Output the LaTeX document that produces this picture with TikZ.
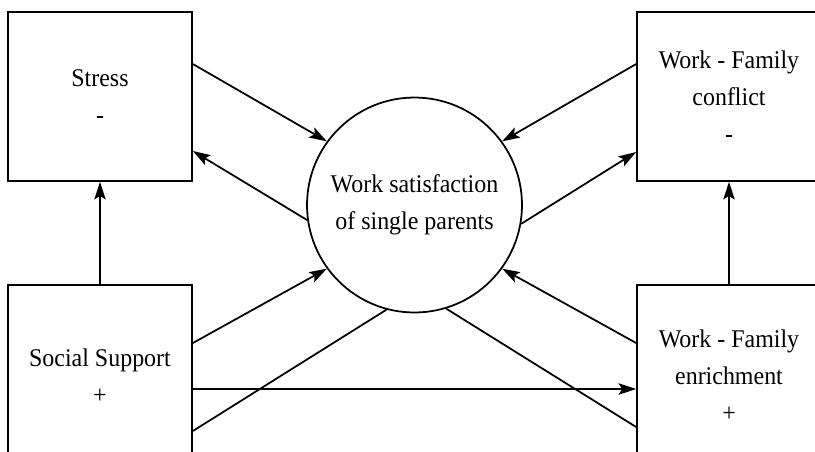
\documentclass[tikz,border=0pt]{standalone}
\usepackage{fontspec}
\setmainfont[FakeStretch=0.94]{Liberation Serif}
\usetikzlibrary{arrows.meta}

\begin{document}
\begin{tikzpicture}[x=0.02cm,y=-0.02cm,
		font=\fontsize{14.5}{21}\selectfont,
		box/.style={draw,line width=1pt,minimum width=3.68cm,align=center},
		hub/.style={draw,circle,line width=1pt,minimum size=4.3cm,align=center},
		arr/.style={line width=1pt,-{Stealth[length=10pt,width=6.5pt,inset=2pt]}},
		lin/.style={line width=1pt}]
		\useasboundingbox (0,0) rectangle (815,451);
		
		%Knoten
		\node[box,minimum height=3.38cm] (stress) at (100,96.5) {Stress\\-};
		\node[box,minimum height=3.64cm] (social) at (100,376) {Social Support\\+};
		\node[box,minimum height=3.38cm] (conflict) at (729,96.5) {Work - Family\\conflict\\-};
		\node[box,minimum height=3.64cm] (enrich) at (729,376) {Work - Family\\enrichment\\+};
		\node[hub] (ws) at (414.5,205) {Work satisfaction\\of single parents};
		
		%Pfeile links
		\draw[arr] ([yshift=0.65cm]stress.east) -- (ws.144);
		\draw[arr] (ws.188) -- ([yshift=-1.09cm]stress.east);
		\draw[arr] (social.north) -- (stress.south);
		\draw[arr] ([yshift=0.66cm]social.east) -- (ws.216);
		\draw[arr] ([yshift=-0.26cm]social.east) -- ([yshift=-0.26cm]enrich.west);
		\draw[lin] ([yshift=-1.1cm]social.east) -- (ws.255);
		
		%Pfeile rechts
		\draw[arr] ([yshift=0.65cm]conflict.west) -- (ws.36);
		\draw[arr] (ws.350) -- ([yshift=-1.11cm]conflict.west);
		\draw[arr] (enrich.north) -- (conflict.south);
		\draw[arr] ([yshift=0.66cm]enrich.west) -- (ws.324);
		\draw[lin] (ws.287.5) -- ([yshift=-1.02cm]enrich.west);
		
\end{tikzpicture}
\end{document}
